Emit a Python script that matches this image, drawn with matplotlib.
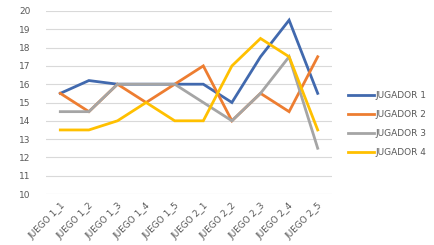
import matplotlib
matplotlib.use("Agg")
import matplotlib.pyplot as plt

juegos = ["JUEGO 1_1", "JUEGO 1_2", "JUEGO 1_3", "JUEGO 1_4", "JUEGO 1_5",
          "JUEGO 2_1", "JUEGO 2_2", "JUEGO 2_3", "JUEGO 2_4", "JUEGO 2_5"]
jugador1 = [15.5, 16.2, 16, 16, 16, 16, 15, 17.5, 19.5, 15.5]
jugador2 = [15.5, 14.5, 16, 15, 16, 17, 14, 15.5, 14.5, 17.5]
jugador3 = [14.5, 14.5, 16, 16, 16, 15, 14, 15.5, 17.5, 12.5]
jugador4 = [13.5, 13.5, 14, 15, 14, 14, 17, 18.5, 17.5, 13.5]
nombres = ["JUGADOR 1", "JUGADOR 2", "JUGADOR 3", "JUGADOR 4"]
colores = ["#4169AE", "#ED7D31", "#A5A5A5", "#FFC000"]

fig = plt.figure(figsize=(4.35, 2.45), dpi=100)
ax = fig.add_axes([46 / 435, 1 - 194 / 245, 286 / 435, 183 / 245])

x = list(range(len(juegos)))
for serie, nombre, c in zip([jugador1, jugador2, jugador3, jugador4], nombres, colores):
    ax.plot(x, serie, color=c, lw=2.0, label=nombre, solid_joinstyle="miter")

ax.set_xlim(-0.5, len(juegos) - 0.5)
ax.set_ylim(10, 20)
ax.set_yticks(range(10, 21))
ax.set_xticks(x)
ax.set_xticklabels(juegos, rotation=45, ha="right", rotation_mode="anchor")
ax.tick_params(axis="both", length=0, labelsize=6.5, colors="#595959")
ax.tick_params(axis="x", pad=5)
ax.tick_params(axis="y", pad=11)
ax.grid(axis="y", color="#D9D9D9", lw=0.8)
ax.set_axisbelow(True)
for s in ax.spines.values():
    s.set_visible(False)

ax.legend(loc="center left", bbox_to_anchor=(1.044, 0.383), frameon=False,
          fontsize=6.5, labelcolor="#595959", handlelength=2.9,
          handletextpad=0.1, labelspacing=1.12, borderaxespad=0)

fig.savefig("out.png", dpi=100)
